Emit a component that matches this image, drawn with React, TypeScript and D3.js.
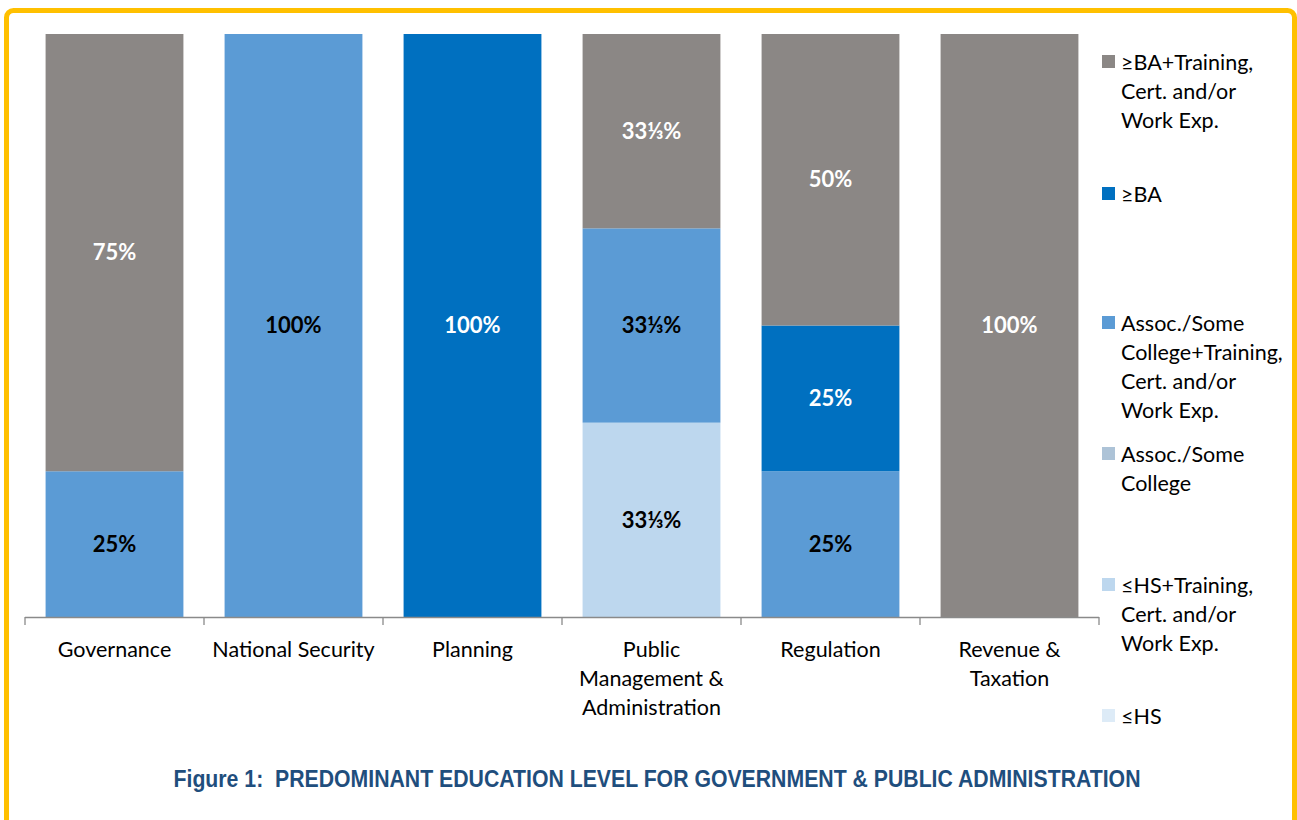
import React from "react";
import * as d3 from "d3";

const categories = [
  ["Governance"],
  ["National Security"],
  ["Planning"],
  ["Public", "Management &", "Administration"],
  ["Regulation"],
  ["Revenue &", "Taxation"],
];

// series bottom -> top
const seriesNames = [
  "≤HS",
  "≤HS+Training, Cert. and/or Work Exp.",
  "Assoc./Some College",
  "Assoc./Some College+Training, Cert. and/or Work Exp.",
  "≥BA",
  "≥BA+Training, Cert. and/or Work Exp.",
];
const seriesColors = ["#DDEBF7", "#BDD7EE", "#ADC3D7", "#5B9BD5", "#0070C0", "#8B8785"];
const labelColors = ["#000", "#000", "#000", "#000", "#fff", "#fff"];

const third = 100 / 3;
const hsValues = [0, 0, 0, 0, 0, 0];
const hsTrainValues = [0, 0, 0, third, 0, 0];
const assocValues = [0, 0, 0, 0, 0, 0];
const assocTrainValues = [25, 100, 0, third, 25, 0];
const baValues = [0, 0, 100, 0, 25, 0];
const baTrainValues = [75, 0, 0, third, 50, 100];
const seriesValues = [hsValues, hsTrainValues, assocValues, assocTrainValues, baValues, baTrainValues];

const legendLines = [
  ["≥BA+Training,", "Cert. and/or", "Work Exp."],
  ["≥BA"],
  ["Assoc./Some", "College+Training,", "Cert. and/or", "Work Exp."],
  ["Assoc./Some", "College"],
  ["≤HS+Training,", "Cert. and/or", "Work Exp."],
  ["≤HS"],
];
const legendSeriesIdx = [5, 4, 3, 2, 1, 0];
const legendTops = [62, 194, 323, 454, 585, 716];

const title = "Figure 1:  PREDOMINANT EDUCATION LEVEL FOR GOVERNMENT & PUBLIC ADMINISTRATION";

const FONT = "Lato, 'Open Sans', sans-serif";

function fmt(v: number) {
  if (Math.abs(v - third) < 0.01) return "33⅓%";
  return `${Math.round(v)}%`;
}

export default function App() {
  const W = 1297, H = 820;
  const x0 = 25, x1 = 1099, yTop = 34, yBot = 617;
  const x = d3.scaleBand<number>().domain(d3.range(categories.length)).range([x0, x1]).paddingInner(0.23).paddingOuter(0.115);
  const y = d3.scaleLinear().domain([0, 100]).range([yBot, yTop]);
  const bandW = (x1 - x0) / categories.length;

  const stackData = categories.map((_, i) => {
    const o: any = { i };
    seriesValues.forEach((s, k) => (o[k] = s[i]));
    return o;
  });
  const stack = d3.stack<any>().keys(d3.range(seriesNames.length).map(String))(stackData);

  return (
    <svg width={W} height={H} style={{ position: "absolute", left: 0, top: 0, background: "#fff" }} fontFamily={FONT}>
      <rect x={6.5} y={10.5} width={1288} height={900} rx={7} fill="none" stroke="#FFC000" strokeWidth={5} />
      {stack.map((layer, k) =>
        layer.map((d, i) => {
          const v = d[1] - d[0];
          if (v <= 0) return null;
          return (
            <rect key={`${k}-${i}`} x={x(i)} width={x.bandwidth()} y={y(d[1])} height={y(d[0]) - y(d[1])} fill={seriesColors[k]} />
          );
        })
      )}
      {stack.map((layer, k) =>
        layer.map((d, i) => {
          const v = d[1] - d[0];
          if (v <= 0) return null;
          return (
            <text key={`t${k}-${i}`} x={x(i)! + x.bandwidth() / 2} y={(y(d[0]) + y(d[1])) / 2} dy="0.35em" textAnchor="middle"
              fontWeight="bold" fontSize={22} fill={labelColors[k]}>
              {fmt(v)}
            </text>
          );
        })
      )}
      <g stroke="#8a8a8a" strokeWidth={1.3}>
        <line x1={x0} x2={x1} y1={yBot + 0.5} y2={yBot + 0.5} />
        {d3.range(categories.length + 1).map((i) => (
          <line key={i} x1={x0 + i * bandW} x2={x0 + i * bandW} y1={yBot} y2={yBot + 8} />
        ))}
      </g>
      {categories.map((lines, i) => (
        <text key={i} x={x(i)! + x.bandwidth() / 2} y={649} textAnchor="middle" fontSize={21.5} fill="#000">
          {lines.map((l, j) => (
            <tspan key={j} x={x(i)! + x.bandwidth() / 2} y={649 + j * 29} dy="0.35em">{l}</tspan>
          ))}
        </text>
      ))}
      {legendLines.map((lines, li) => (
        <g key={li}>
          <rect x={1102} y={legendTops[li] - 7} width={13} height={13} fill={seriesColors[legendSeriesIdx[li]]} />
          <text fontSize={21.5} fill="#000">
            {lines.map((l, j) => (
              <tspan key={j} x={1121} y={legendTops[li] + j * 29} dy="0.35em">{l}</tspan>
            ))}
          </text>
        </g>
      ))}
      <text x={657} y={779} dy="0.35em" textAnchor="middle" fontFamily="'Liberation Sans Narrow', 'Arial Narrow', 'Liberation Sans', sans-serif"
        fontWeight="bold" fontSize={24} fill="#1F4E7D" textLength={967} lengthAdjust="spacingAndGlyphs"
        style={{ whiteSpace: "pre" }}>
        {title}
      </text>
    </svg>
  );
}
